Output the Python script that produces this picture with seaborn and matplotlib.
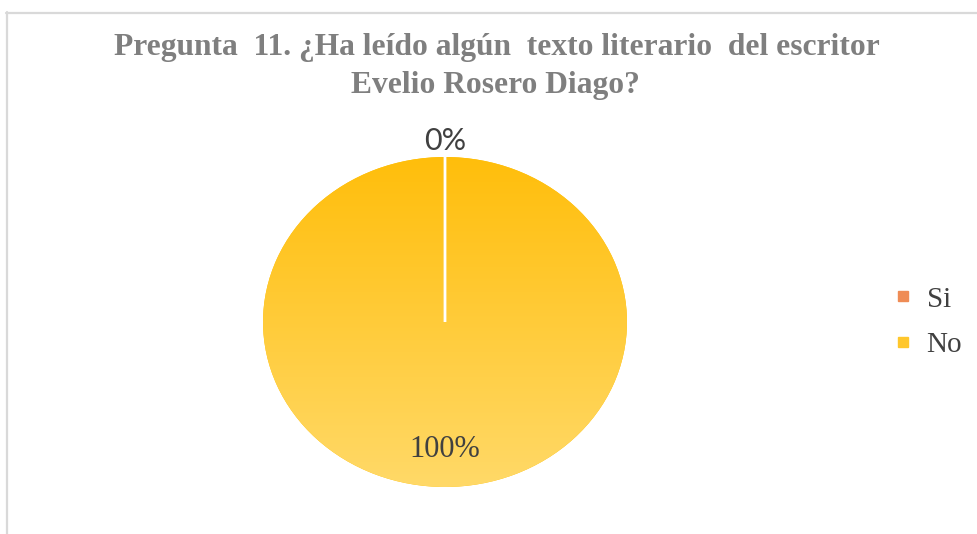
import numpy as np
import matplotlib
matplotlib.use("Agg")
import matplotlib.pyplot as plt
from matplotlib.colors import LinearSegmentedColormap
from matplotlib.lines import Line2D
import seaborn as sns

# ---- data ----
categories = ["Si", "No"]
values = [0, 100]
pct_labels = ["0%", "100%"]
title_lines = ["Pregunta  11. ¿Ha leído algún  texto literario  del escritor",
               "Evelio Rosero Diago?"]

sns.set_theme(style="white")
colors = sns.color_palette(["#ED7D31", "#FFC000"])
legend_colors = ["#EF8C55", "#FFC72C"]

W, H = 977, 534
fig = plt.figure(figsize=(W / 100, H / 100), dpi=100)
fig.patch.set_facecolor("white")

# chart border (top and left visible)
border = "#d9d9d9"
fig.add_artist(Line2D([6 / W, 1], [1 - 12.5 / H, 1 - 12.5 / H], transform=fig.transFigure,
                      color=border, lw=1.6))
fig.add_artist(Line2D([6.5 / W, 6.5 / W], [0, 1 - 12 / H], transform=fig.transFigure,
                      color=border, lw=1.6))

# pie axes (elliptical like the reference)
cx, cy, rx, ry = 445, 322, 182, 165
ax = fig.add_axes([(cx - rx) / W, (H - cy - ry) / H, 2 * rx / W, 2 * ry / H])
wedges, _ = ax.pie(values, colors=colors, startangle=90, counterclock=False,
                   wedgeprops=dict(edgecolor="white", linewidth=2))
ax.set_aspect("auto")
ax.set_xlim(-1, 1)
ax.set_ylim(-1, 1)
ax.axis("off")

# vertical gradient fill for the "No" slice
grad_cmap = LinearSegmentedColormap.from_list("g", ["#FFD968", "#FFBE0B"])
grad = np.linspace(0, 1, 256).reshape(-1, 1)
im = ax.imshow(grad, cmap=grad_cmap, extent=[-1, 1, -1, 1], origin="lower",
               aspect="auto", zorder=1.5, interpolation="bilinear")
im.set_clip_path(wedges[1])
wedges[1].set_edgecolor("none")
wedges[0].set_zorder(3)

# percentage labels
label_dist = [1.10, 0.77]
label_fonts = [["Lato", "DejaVu Sans"], ["Liberation Serif", "DejaVu Serif"]]
label_sizes = [22, 22]
for w, lab, d, fam, fs in zip(wedges, pct_labels, label_dist, label_fonts, label_sizes):
    ang = np.deg2rad((w.theta1 + w.theta2) / 2)
    ax.text(d * np.cos(ang), d * np.sin(ang), lab, ha="center", va="center",
            fontsize=fs, color="#404040", family=fam, zorder=4)

# title
fig.text(497 / W, 1 - 48 / H, title_lines[0], ha="center", va="center",
         fontsize=22.7, fontweight="bold", color="#7f7f7f", family="Liberation Serif")
fig.text(495 / W, 1 - 85 / H, title_lines[1], ha="center", va="center",
         fontsize=22.7, fontweight="bold", color="#7f7f7f", family="Liberation Serif")

# legend
handles = [Line2D([], [], marker="s", linestyle="none", markersize=7.5,
                  markerfacecolor=c, markeredgecolor=c) for c in legend_colors]
leg = fig.legend(handles, categories, loc="center left",
                 bbox_to_anchor=(896 / W, 1 - 322 / H), frameon=False,
                 prop={"family": "Liberation Serif", "size": 21},
                 handlelength=0.5, handletextpad=0.55, labelspacing=0.65,
                 borderpad=0, borderaxespad=0)
for t in leg.get_texts():
    t.set_color("#404040")

fig.savefig("out.png", dpi=100, facecolor="white")
